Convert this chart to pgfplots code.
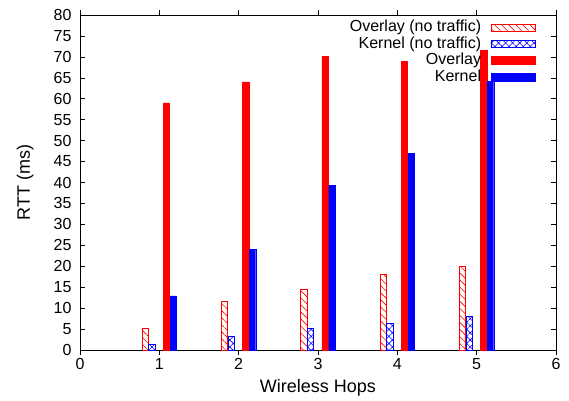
\documentclass[border=0pt]{standalone}
\usepackage{fontspec}
\setmainfont{Liberation Sans}
\usepackage{pgfplots}
\pgfplotsset{compat=1.18}
\usetikzlibrary{patterns.meta}
\pgfplotsset{
  thinleg/.style={legend image code/.code={\draw[##1] (0bp,-3.5bp) rectangle (44bp,3.5bp);}},
  thickleg/.style={legend image code/.code={\draw[##1] (0bp,-4bp) rectangle (44bp,4bp);}},
}
\pgfplotstableread{
hop ovnt knnt ov kn
1 5.2 1.3 59 12.9
2 11.7 3.2 64 24
3 14.5 5.2 70.2 39.3
4 18 6.3 69 47
5 20.1 8.1 71.5 64.2
}\datatable
\begin{document}
\begin{tikzpicture}
\begin{axis}[
  scale only axis, width=476bp, height=335bp,
  xmin=0, xmax=6, ymin=0, ymax=80,
  xtick={0,1,...,6}, ytick={0,5,...,80},
  tick align=inside, major tick length=5bp,
  axis line style={black, line width=0.6pt},
  every tick/.style={black, line width=0.6pt},
  font=\fontsize{16bp}{19bp}\selectfont,
  /pgf/number format/assume math mode=true,
  yticklabel style={xshift=-5bp},
  xlabel={Wireless Hops}, ylabel={RTT (ms)},
  every axis x label/.style={at={(axis description cs:0.5,-0.113)}, anchor=center, font=\fontsize{18bp}{21bp}\selectfont},
  every axis y label/.style={at={(axis description cs:-0.115,0.5)}, anchor=center, rotate=90, font=\fontsize{18bp}{21bp}\selectfont},
  ybar, bar width=0.08,
  legend plot pos=right,
  legend cell align=right,
  legend style={at={(axis description cs:0.963,0.99)}, anchor=north east, draw=none, fill=none,
    font=\fontsize{16bp}{19bp}\selectfont, row sep=2.5bp,
    nodes={inner xsep=0bp, inner ysep=0bp, text height=11bp, text depth=3bp},
    /tikz/every odd column/.append style={column sep=9.5bp}},
]
\addplot[draw=red, line width=0.6pt, pattern={Lines[angle=-45,distance=5bp,line width=0.6pt]}, pattern color=red, bar shift=-0.18, thinleg] table[x=hop,y=ovnt]{\datatable};
\addlegendentry{Overlay (no traffic)}
\addplot[draw=blue, line width=0.6pt, pattern={Hatch[angle=45,distance=5bp,line width=0.6pt]}, pattern color=blue, bar shift=-0.095, thinleg] table[x=hop,y=knnt]{\datatable};
\addlegendentry{Kernel (no traffic)}
\addplot[draw=red, fill=red, bar shift=0.09, thickleg] table[x=hop,y=ov]{\datatable};
\addlegendentry{Overlay}
\addplot[draw=blue, fill=blue, bar shift=0.175, thickleg] table[x=hop,y=kn]{\datatable};
\addlegendentry{Kernel}
\end{axis}
\path (current axis.south west) ++(-80bp,-50bp);
\path (current axis.north east) ++(13bp,15bp);
\end{tikzpicture}
\end{document}
